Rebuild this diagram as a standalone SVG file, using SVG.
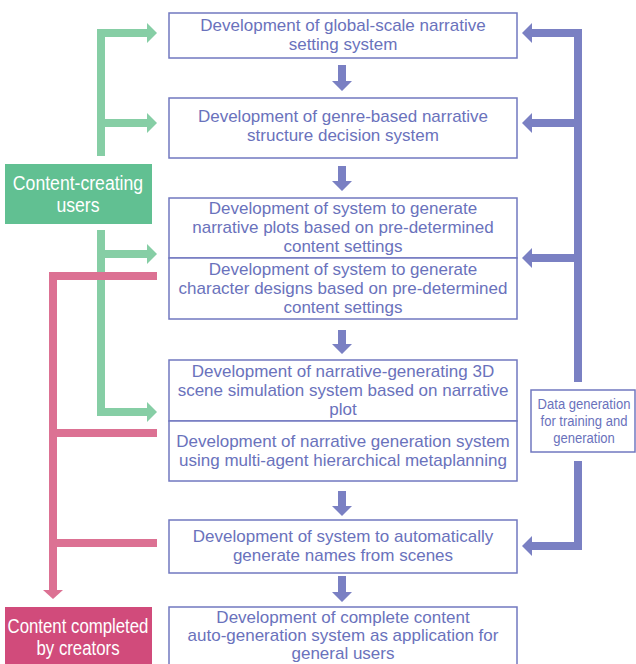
<svg xmlns="http://www.w3.org/2000/svg" width="636" height="664" viewBox="0 0 636 664">
  <style>
    .box { fill: #ffffff; stroke: #7178c0; stroke-width: 1.5; }
    .txt { font-family: "Liberation Sans", Arial, sans-serif; font-size: 17px; fill: #6a72bc; text-anchor: middle; }
    .narrow { font-family: "Liberation Sans", Arial, sans-serif; text-anchor: middle; }
    .note { font-size: 15px; fill: #6a72bc; }
    .label { font-size: 21px; fill: #ffffff; }
    .blue { fill: #7a80c3; }
    .green { fill: #86cea5; }
    .pink { fill: #dc7193; }
  </style>

  <!-- connectors -->
  <g id="connectors">
    <!-- process flow arrows -->
    <g class="blue">
      <path d="M338,65 H346 V81 H352 L342,91 L332,81 H338 Z"/>
      <path d="M338,166 H346 V181 H352 L342,191 L332,181 H338 Z"/>
      <path d="M338,330 H346 V344 H352 L342,354 L332,344 H338 Z"/>
      <path d="M338,491 H346 V506 H352 L342,516 L332,506 H338 Z"/>
      <path d="M338,576 H346 V592 H352 L342,602 L332,592 H338 Z"/>
    </g>
    <!-- data generation feedback bracket -->
    <g class="blue">
      <rect x="574" y="29" width="8" height="353"/>
      <rect x="532" y="29" width="50" height="8"/>
      <polygon points="522,33 532,23 532,43"/>
      <rect x="532" y="119" width="46" height="8"/>
      <polygon points="522,123 532,113 532,133"/>
      <rect x="532" y="254" width="46" height="8"/>
      <polygon points="522,258 532,248 532,268"/>
      <rect x="574" y="461" width="8" height="89"/>
      <rect x="532" y="542" width="50" height="8"/>
      <polygon points="522,546 532,536 532,556"/>
    </g>
    <!-- content-creating users bracket -->
    <g class="green">
      <rect x="97" y="29" width="8" height="127"/>
      <rect x="97" y="29" width="51" height="8"/>
      <polygon points="157,33 147,23 147,43"/>
      <rect x="101" y="119" width="47" height="8"/>
      <polygon points="157,123 147,113 147,133"/>
      <rect x="97" y="230" width="8" height="186"/>
      <rect x="101" y="250" width="47" height="8"/>
      <polygon points="157,254 147,244 147,264"/>
      <rect x="97" y="408" width="51" height="8"/>
      <polygon points="157,412 147,402 147,422"/>
    </g>
    <!-- content completed bracket -->
    <g class="pink">
      <rect x="49" y="272" width="8" height="319"/>
      <rect x="49" y="272" width="108" height="8"/>
      <rect x="53" y="429" width="104" height="8"/>
      <rect x="53" y="539" width="104" height="8"/>
      <polygon points="43,590 63,590 53,599"/>
    </g>
  </g>

  <g id="node-global-setting">
    <rect class="box" x="169" y="13" width="348" height="45"/>
    <text class="txt" x="343" y="31">Development of global-scale narrative</text>
    <text class="txt" x="343" y="50">setting system</text>
  </g>

  <g id="node-genre-structure">
    <rect class="box" x="169" y="98" width="348" height="60"/>
    <text class="txt" x="343" y="122">Development of genre-based narrative</text>
    <text class="txt" x="343" y="141">structure decision system</text>
  </g>

  <g id="node-narrative-plots">
    <rect class="box" x="169" y="198" width="348" height="60"/>
    <text class="txt" x="343" y="214">Development of system to generate</text>
    <text class="txt" x="343" y="233">narrative plots based on pre-determined</text>
    <text class="txt" x="343" y="252">content settings</text>
  </g>

  <g id="node-character-designs">
    <rect class="box" x="169" y="258" width="348" height="61"/>
    <text class="txt" x="343" y="275">Development of system to generate</text>
    <text class="txt" x="343" y="294">character designs based on pre-determined</text>
    <text class="txt" x="343" y="313">content settings</text>
  </g>

  <g id="node-scene-simulation">
    <rect class="box" x="169" y="360" width="348" height="61"/>
    <text class="txt" x="343" y="377">Development of narrative-generating 3D</text>
    <text class="txt" x="343" y="396">scene simulation system based on narrative</text>
    <text class="txt" x="343" y="415">plot</text>
  </g>

  <g id="node-metaplanning">
    <rect class="box" x="169" y="421" width="348" height="60"/>
    <text class="txt" x="343" y="447">Development of narrative generation system</text>
    <text class="txt" x="343" y="466">using multi-agent hierarchical metaplanning</text>
  </g>

  <g id="node-scene-names">
    <rect class="box" x="169" y="520" width="348" height="53"/>
    <text class="txt" x="343" y="542">Development of system to automatically</text>
    <text class="txt" x="343" y="561">generate names from scenes</text>
  </g>

  <g id="node-auto-generation">
    <rect class="box" x="169" y="607" width="348" height="70"/>
    <text class="txt" x="343" y="623">Development of complete content</text>
    <text class="txt" x="343" y="641">auto-generation system as application for</text>
    <text class="txt" x="343" y="659">general users</text>
  </g>

  <g id="node-data-generation">
    <rect class="box" x="531" y="390" width="104" height="62"/>
    <text class="narrow note" transform="translate(584,409) scale(0.87,1)">Data generation</text>
    <text class="narrow note" transform="translate(584,426) scale(0.87,1)">for training and</text>
    <text class="narrow note" transform="translate(584,443) scale(0.87,1)">generation</text>
  </g>

  <g id="node-content-creating-users">
    <rect x="5" y="164" width="147" height="60" fill="#61c092"/>
    <text class="narrow label" transform="translate(78,190) scale(0.84,1)">Content-creating</text>
    <text class="narrow label" transform="translate(78,212) scale(0.84,1)">users</text>
  </g>

  <g id="node-content-completed">
    <rect x="5" y="607" width="147" height="60" fill="#d14b7b"/>
    <text class="narrow label" transform="translate(78,633) scale(0.8,1)">Content completed</text>
    <text class="narrow label" transform="translate(78,655) scale(0.8,1)">by creators</text>
  </g>
</svg>
